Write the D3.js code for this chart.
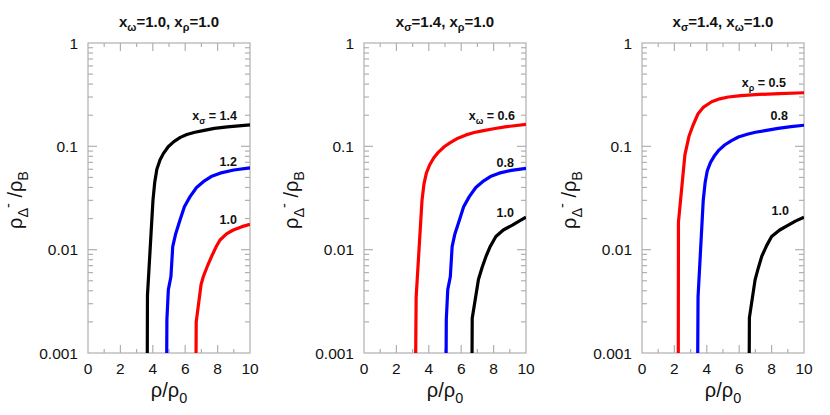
<!DOCTYPE html>
<html><head><meta charset="utf-8">
<script src="https://cdn.jsdelivr.net/npm/d3@7"></script>
<style>body{margin:0;background:#fff}svg{display:block}text{font-family:"Liberation Sans",Arial,Helvetica,sans-serif}</style>
</head><body><svg id="c" width="830" height="415"></svg>
<script>
// ---- data ----
const xTicks = [0, 2, 4, 6, 8, 10];
const yTicks = [0.001, 0.01, 0.1, 1];
const yTickLabels = ["0.001", "0.01", "0.1", "1"];

// panel 1: x_omega=1.0, x_rho=1.0 ; curves by x_sigma
const p1_s14_x = [3.66, 3.67, 4.01, 4.12, 4.25, 4.45, 4.65, 4.95, 5.3, 5.7, 6.1, 6.6, 7.1, 7.8, 8.6, 9.3, 10];
const p1_s14_y = [0.001, 0.0036, 0.030, 0.045, 0.060, 0.074, 0.085, 0.099, 0.111, 0.122, 0.130, 0.137, 0.142, 0.149, 0.154, 0.158, 0.161];
const p1_s12_x = [4.86, 4.87, 4.96, 5.12, 5.23, 5.4, 5.68, 5.95, 6.3, 6.7, 7.12, 7.6, 8.15, 9.0, 10];
const p1_s12_y = [0.001, 0.0021, 0.0041, 0.0055, 0.0107, 0.0140, 0.0194, 0.026, 0.0326, 0.040, 0.0455, 0.051, 0.055, 0.059, 0.062];
const p1_s10_x = [6.67, 6.68, 6.98, 7.12, 7.35, 7.63, 7.9, 8.15, 8.55, 8.97, 9.5, 10];
const p1_s10_y = [0.001, 0.002, 0.0046, 0.0055, 0.0068, 0.0086, 0.0106, 0.0124, 0.0142, 0.0155, 0.0167, 0.0176];

// panel 2: x_sigma=1.4, x_rho=1.0 ; curves by x_omega
const p2_w06_x = [3.19, 3.22, 3.58, 3.7, 3.85, 4.05, 4.3, 4.6, 4.95, 5.3, 5.8, 6.3, 6.8, 7.3, 8.0, 8.8, 10];
const p2_w06_y = [0.001, 0.0035, 0.030, 0.043, 0.055, 0.066, 0.077, 0.088, 0.099, 0.108, 0.120, 0.129, 0.136, 0.141, 0.148, 0.155, 0.163];
const p2_w08_x = [5.07, 5.08, 5.17, 5.33, 5.44, 5.6, 5.89, 6.15, 6.5, 6.9, 7.32, 7.8, 8.34, 9.1, 10];
const p2_w08_y = [0.001, 0.0021, 0.0041, 0.0055, 0.0107, 0.0140, 0.0194, 0.026, 0.0326, 0.040, 0.0455, 0.051, 0.055, 0.0585, 0.0612];
const p2_w10_x = [6.67, 6.68, 7.06, 7.12, 7.3, 7.53, 7.8, 8.14, 8.6, 9.16, 9.6, 10];
const p2_w10_y = [0.001, 0.00217, 0.0051, 0.0055, 0.0068, 0.0086, 0.0108, 0.0134, 0.0155, 0.0173, 0.0190, 0.0206];

// panel 3: x_sigma=1.4, x_omega=1.0 ; curves by x_rho
const p3_r05_x = [2.24, 2.25, 2.65, 2.9, 3.15, 3.45, 3.8, 4.3, 4.8, 5.33, 6.1, 7.0, 8.5, 10];
const p3_r05_y = [0.001, 0.0185, 0.083, 0.125, 0.16, 0.205, 0.24, 0.27, 0.288, 0.300, 0.310, 0.317, 0.324, 0.33];
const p3_r08_x = [3.44, 3.46, 3.78, 3.9, 4.03, 4.23, 4.45, 4.75, 5.1, 5.5, 5.95, 6.5, 7.0, 7.6, 8.4, 9.2, 10];
const p3_r08_y = [0.001, 0.0035, 0.030, 0.045, 0.058, 0.070, 0.080, 0.092, 0.103, 0.113, 0.123, 0.131, 0.137, 0.142, 0.149, 0.155, 0.16];
const p3_r10_x = [6.62, 6.63, 6.98, 7.15, 7.39, 7.7, 8.0, 8.5, 9.03, 9.5, 10];
const p3_r10_y = [0.001, 0.0022, 0.0051, 0.0064, 0.0086, 0.0110, 0.0134, 0.0155, 0.0173, 0.0190, 0.0206];

const zip = (xs, ys) => xs.map((x, i) => [x, ys[i]]);

// ---- layout ----
const panels = [
  { left: 88, title: [["x",""],["ω","sub"],["=1.0, x",""],["ρ","sub"],["=1.0",""]],
    curves: [
      { pts: zip(p1_s14_x, p1_s14_y), color: "#000", label: [["x",""],["σ","sub"],[" = 1.4",""]], lx: 237, ly: 120 },
      { pts: zip(p1_s12_x, p1_s12_y), color: "#0000ff", label: [["1.2",""]], lx: 237, ly: 166 },
      { pts: zip(p1_s10_x, p1_s10_y), color: "#ff0000", label: [["1.0",""]], lx: 237, ly: 224 } ] },
  { left: 364, title: [["x",""],["σ","sub"],["=1.4, x",""],["ρ","sub"],["=1.0",""]],
    curves: [
      { pts: zip(p2_w06_x, p2_w06_y), color: "#ff0000", label: [["x",""],["ω","sub"],[" = 0.6",""]], lx: 515, ly: 120 },
      { pts: zip(p2_w08_x, p2_w08_y), color: "#0000ff", label: [["0.8",""]], lx: 514, ly: 167 },
      { pts: zip(p2_w10_x, p2_w10_y), color: "#000", label: [["1.0",""]], lx: 514, ly: 217 } ] },
  { left: 642, title: [["x",""],["σ","sub"],["=1.4, x",""],["ω","sub"],["=1.0",""]],
    curves: [
      { pts: zip(p3_r05_x, p3_r05_y), color: "#ff0000", label: [["x",""],["ρ","sub"],[" = 0.5",""]], lx: 786, ly: 87 },
      { pts: zip(p3_r08_x, p3_r08_y), color: "#0000ff", label: [["0.8",""]], lx: 788, ly: 120 },
      { pts: zip(p3_r10_x, p3_r10_y), color: "#000", label: [["1.0",""]], lx: 789, ly: 215 } ] }
];
const PW = 162, yTop = 43, yBot = 353;
const axisColor = "#b0b0b0";

const svg = d3.select("#c");

function richText(sel, parts, size) {
  let cur = 0;
  parts.forEach(([t, kind]) => {
    const target = kind === "sub" ? size * 0.28 : kind === "sup" ? -size * 0.45 : 0;
    const ts = sel.append("tspan").text(t).attr("dy", target - cur);
    if (kind) ts.attr("font-size", size * 0.72);
    cur = target;
  });
}

panels.forEach((p, pi) => {
  const x = d3.scaleLinear().domain([0, 10]).range([p.left, p.left + PW]);
  const y = d3.scaleLog().domain([0.001, 1]).range([yBot, yTop]);
  const g = svg.append("g");

  const cid = "clip" + pi;
  svg.append("clipPath").attr("id", cid).append("rect")
    .attr("x", p.left).attr("y", yTop).attr("width", PW).attr("height", yBot - yTop);

  g.append("rect").attr("x", p.left).attr("y", yTop).attr("width", PW).attr("height", yBot - yTop)
    .attr("fill", "none").attr("stroke", axisColor).attr("stroke-width", 1.2);

  d3.range(1, 10, 1).forEach(v => {
    const len = (v % 2 === 0) ? 8 : 4;
    g.append("line").attr("x1", x(v)).attr("x2", x(v)).attr("y1", yBot).attr("y2", yBot - len)
      .attr("stroke", axisColor).attr("stroke-width", 1.2);
    g.append("line").attr("x1", x(v)).attr("x2", x(v)).attr("y1", yTop).attr("y2", yTop + len)
      .attr("stroke", axisColor).attr("stroke-width", 1.2);
  });
  const yMinor = [];
  [0.001, 0.01, 0.1].forEach(d => { for (let k = 2; k <= 9; k++) yMinor.push(d * k); });
  yMinor.forEach(v => {
    [[p.left, 5], [p.left + PW, -5]].forEach(([x0, l]) => {
      g.append("line").attr("x1", x0).attr("x2", x0 + l).attr("y1", y(v)).attr("y2", y(v))
        .attr("stroke", axisColor).attr("stroke-width", 1.2);
    });
  });
  [0.01, 0.1].forEach(v => {
    [[p.left, 9], [p.left + PW, -9]].forEach(([x0, l]) => {
      g.append("line").attr("x1", x0).attr("x2", x0 + l).attr("y1", y(v)).attr("y2", y(v))
        .attr("stroke", axisColor).attr("stroke-width", 1.2);
    });
  });

  g.selectAll(".xl").data(xTicks).enter().append("text")
    .attr("x", d => x(d)).attr("y", 374).attr("text-anchor", "middle")
    .attr("font-size", 15.5).attr("fill", "#111").text(d => d);
  g.selectAll(".yl").data(yTicks).enter().append("text")
    .attr("x", p.left - 10).attr("y", d => y(d)).attr("dy", "0.36em").attr("text-anchor", "end")
    .attr("font-size", 15.5).attr("fill", "#111").text((d, i) => yTickLabels[i]);

  const xt = g.append("text").attr("x", x(5)).attr("y", 397).attr("text-anchor", "middle")
    .attr("font-size", 20).attr("fill", "#111");
  richText(xt, [["ρ/ρ",""],["0","sub"]], 20);

  const yt = g.append("text").attr("transform", `translate(${p.left - 66},200) rotate(-90)`)
    .attr("text-anchor", "middle").attr("font-size", 20).attr("fill", "#111");
  richText(yt, [["ρ",""],["Δ","sub"],["-","sup"],[" /ρ",""],["B","sub"]], 20);

  const tt = g.append("text").attr("x", x(5)).attr("y", 27).attr("text-anchor", "middle")
    .attr("font-size", 15).attr("font-weight", "bold").attr("fill", "#111");
  richText(tt, p.title, 15);

  const line = d3.line().x(d => x(d[0])).y(d => y(d[1])).curve(d3.curveLinear);
  const cg = g.append("g").attr("clip-path", `url(#${cid})`);
  p.curves.forEach(c => {
    cg.append("path").attr("d", line(c.pts)).attr("fill", "none")
      .attr("stroke", c.color).attr("stroke-width", 3.2).attr("stroke-linejoin", "round");
  });
  p.curves.forEach(c => {
    const t = g.append("text").attr("x", c.lx).attr("y", c.ly).attr("text-anchor", "end")
      .attr("font-size", 12.5).attr("font-weight", "bold").attr("fill", "#111");
    richText(t, c.label, 12.5);
  });
});
</script></body></html>
